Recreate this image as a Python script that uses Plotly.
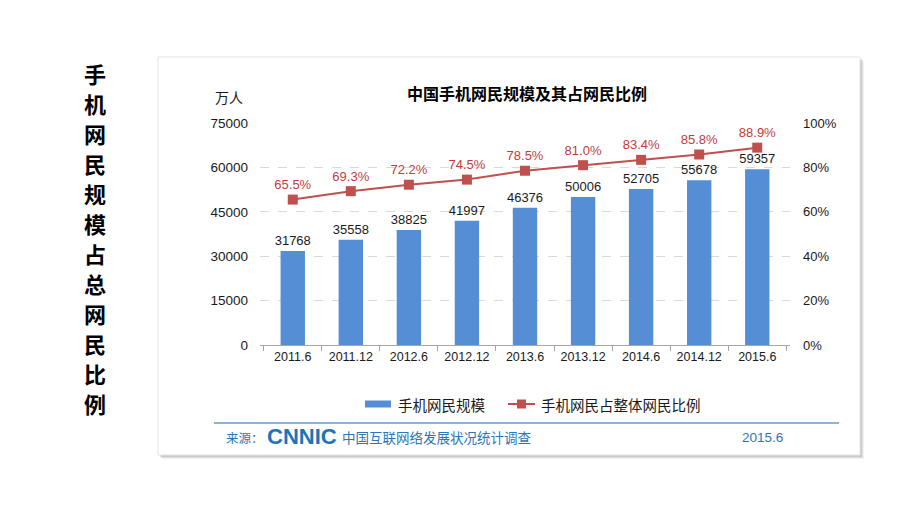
import plotly.graph_objects as go

# ---- data ----
periods = ["2011.6", "2011.12", "2012.6", "2012.12", "2013.6", "2013.12", "2014.6", "2014.12", "2015.6"]
mobile_users = [31768, 35558, 38825, 41997, 46376, 50006, 52705, 55678, 59357]   # 万人
mobile_ratio = [65.5, 69.3, 72.2, 74.5, 78.5, 81.0, 83.4, 85.8, 88.9]          # %
left_ticks = [0, 15000, 30000, 45000, 60000, 75000]
right_ticks = [0, 20, 40, 60, 80, 100]
series_names = ["手机网民规模", "手机网民占整体网民比例"]
chart_title = "中国手机网民规模及其占网民比例"
side_title = "手机网民规模占总网民比例"

# ---- layout geometry (pixels, page coords; the page body adds an 8px offset) ----
O = 8
W, H = 920 - O, 517 - O
L, R, T, B = 260 - O, 790 - O, 123 - O, 345 - O

def px(x):
    return (x - O - L) / (R - L)

def py(y):
    return (B - (y - O)) / (B - T)

CJK = "Noto Sans CJK SC"
NUM = "Liberation Sans, Arial, sans-serif"
BLUE = "#558ED5"
RED = "#C0504D"
RED_TXT = "#C23B3B"
FOOT = "#2E75B6"

fig = go.Figure()
fig.add_trace(go.Bar(
    x=periods, y=mobile_users, name=series_names[0],
    marker=dict(color=BLUE, line=dict(width=0)), width=0.42,
    text=[str(v) for v in mobile_users], textposition="outside", constraintext="none",
    textfont=dict(family=NUM, size=13, color="#1a1a1a"), cliponaxis=False,
))
fig.add_trace(go.Scatter(
    x=periods, y=[v / 100 for v in mobile_ratio], yaxis="y2", name=series_names[1],
    mode="lines+markers+text",
    line=dict(color=RED, width=2),
    marker=dict(symbol="square", size=10, color=RED),
    text=[f"{v:.1f}%" for v in mobile_ratio], textposition="top center",
    textfont=dict(family=NUM, size=13, color=RED_TXT), cliponaxis=False,
))

shapes = []
# panel shadow + panel
for off, col in [(4, "rgba(0,0,0,0.05)"), (3, "rgba(0,0,0,0.07)"), (2, "rgba(0,0,0,0.10)")]:
    shapes.append(dict(type="rect", xref="paper", yref="paper", layer="below",
                       x0=px(158 + off), x1=px(860 + off), y0=py(455 + off), y1=py(57 + off),
                       line=dict(width=0), fillcolor=col))
shapes.append(dict(type="rect", xref="paper", yref="paper", layer="below",
                   x0=px(158), x1=px(860), y0=py(455), y1=py(57),
                   line=dict(width=1, color="#E3E3E3"), fillcolor="white"))
# legend symbols
shapes.append(dict(type="rect", xref="paper", yref="paper",
                   x0=px(365), x1=px(391), y0=py(407.5), y1=py(400.5),
                   line=dict(width=0), fillcolor=BLUE))
shapes.append(dict(type="line", xref="paper", yref="paper",
                   x0=px(508), x1=px(535), y0=py(404), y1=py(404),
                   line=dict(width=2, color=RED)))
shapes.append(dict(type="rect", xref="paper", yref="paper",
                   x0=px(517), x1=px(526), y0=py(408.5), y1=py(399.5),
                   line=dict(width=0), fillcolor=RED))
# footer rule
shapes.append(dict(type="line", xref="paper", yref="paper",
                   x0=px(214), x1=px(839), y0=py(423), y1=py(423),
                   line=dict(width=1.5, color="#5B9BD5")))

ann = []
def text(x, y, s, size, color="#000", family=CJK, xanchor="center", bold=False, pad=1):
    ann.append(dict(xref="paper", yref="paper", x=px(x), y=py(y), text=(f"<b>{s}</b>" if bold else s),
                    showarrow=False, xanchor=xanchor, yanchor="middle", borderpad=pad,
                    font=dict(family=family, size=size, color=color)))

text(527, 93, chart_title, 16, bold=True)
text(229, 97, "万人", 14, color="#1a1a1a")
text(396, 404, series_names[0], 14.5, color="#1a1a1a", xanchor="left")
text(539, 404, series_names[1], 14.5, color="#1a1a1a", xanchor="left")
text(225, 437, "来源：", 12.5, color=FOOT, xanchor="left", pad=0)
text(266, 436, "CNNIC", 22, color="#1B75BC", family=NUM, xanchor="left", bold=True, pad=0)
text(340, 437, "中国互联网络发展状况统计调查", 13.5, color=FOOT, xanchor="left")
text(762, 437, "2015.6", 13.5, color=FOOT, family=NUM)
# vertical side title, one character per row
for i, ch in enumerate(side_title):
    text(95, 73 + 30 * i, ch, 22, bold=True, pad=0)

fig.update_layout(
    width=W, height=H,
    margin=dict(l=L, r=W - R, t=T, b=H - B, pad=0),
    paper_bgcolor="white", plot_bgcolor="rgba(0,0,0,0)",
    showlegend=False, shapes=shapes, annotations=ann,
    xaxis=dict(type="category", showline=True, linecolor="#A6A6A6", linewidth=1,
               ticks="outside", tickson="boundaries", ticklen=5, tickcolor="#A6A6A6",
               tickfont=dict(family=NUM, size=12.5, color="#1a1a1a"), showgrid=False),
    yaxis=dict(range=[0, 75000], tickvals=left_ticks, ticktext=[str(v) for v in left_ticks],
               showgrid=True, gridcolor="#D9D9D9", griddash="dash", gridwidth=1,
               zeroline=False, showline=False, ticks="", ticklabelstandoff=11,
               tickfont=dict(family=NUM, size=13.5, color="#1a1a1a")),
    yaxis2=dict(range=[0, 1], overlaying="y", side="right",
                tickvals=[v / 100 for v in right_ticks], ticktext=[f"{v}%" for v in right_ticks],
                showgrid=False, zeroline=False, showline=False, ticks="", ticklabelstandoff=12,
                tickfont=dict(family=NUM, size=13, color="#1a1a1a")),
    bargap=0.58,
)

fig.write_html("out.html")
